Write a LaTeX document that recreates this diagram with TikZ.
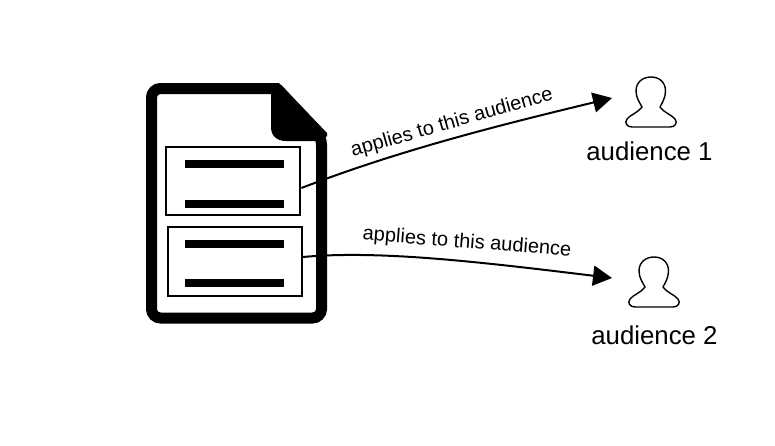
\documentclass[tikz,border=0pt]{standalone}
\usepackage{fontspec}
\setmainfont{Liberation Sans}
\usetikzlibrary{arrows.meta}
\tikzset{
    section/.style={draw, line width=2pt, inner sep=0pt, minimum width=134pt},
    bar/.style={line width=8pt},
    link/.style={line width=2pt, -{Triangle[length=19pt,width=20pt]}},
    linklabel/.style={font=\fontsize{20}{24}\selectfont, inner sep=0pt},
    audlabel/.style={font=\fontsize{25.8}{30}\selectfont, inner sep=0pt},
    person/.pic={
        \draw[line width=1.4pt, line join=round]
            (-19,0) .. controls (-24,0) and (-27,-4) .. (-24,-8)
            .. controls (-21,-12) and (-12,-15) .. (-9,-20)
            .. controls (-11,-24) and (-15,-29) .. (-15,-36)
            .. controls (-15,-45) and (-8,-50) .. (0,-50)
            .. controls (8,-50) and (14.500,-45) .. (14.500,-36)
            .. controls (14.500,-29) and (11,-24) .. (9,-20)
            .. controls (12,-15) and (21,-12) .. (24,-8)
            .. controls (27,-4) and (24,0) .. (19,0) -- cycle;
    }
}
\begin{document}
\begin{tikzpicture}[x=1pt,y=-1pt]
    \useasboundingbox (0,0) rectangle (775,445);
    % document outline and folded corner
    \draw[line width=11pt, rounded corners=9pt] (277,88.5) -- (151.5,88.5) -- (151.5,318) -- (321.5,318) -- (321.5,136) -- (277,88.5);
    \fill (271,90) -- (271,127) .. controls (271,136) and (277,141) .. (286,141) -- (321,141) -- (327,136) -- (327,133) -- (279,83) -- (271,83) -- cycle;
    % sections
    \node[section, minimum height=68pt] (sec1) at (233.4,181) {};
    \node[section, minimum height=69pt] (sec2) at (234.6,261) {};
    \draw[bar] (185,164) -- (284,164);
    \draw[bar] (185,204) -- (284,204);
    \draw[bar] (185,244) -- (284,244);
    \draw[bar] (185,283) -- (284,283);
    % audiences
    \pic at (651,127) {person};
    \pic at (654,307) {person};
    \node[audlabel] (aud1) at (649.5,151) {audience 1};
    \node[audlabel] (aud2) at (654.5,335) {audience 2};
    % links
    \coordinate (tip1) at (612,98);
    \coordinate (tip2) at (612,278);
    \draw[link] ([yshift=-7pt]sec1.east) .. controls (400,150) and (500,125) .. (tip1);
    \draw[link] ([yshift=4pt]sec2.east) .. controls (380,250) and (480,262) .. (tip2);
    \node[linklabel, rotate=16] (lab1) at (452,123) {applies to this audience};
    \node[linklabel, rotate=-4.5] (lab2) at (467,243) {applies to this audience};
\end{tikzpicture}
\end{document}
